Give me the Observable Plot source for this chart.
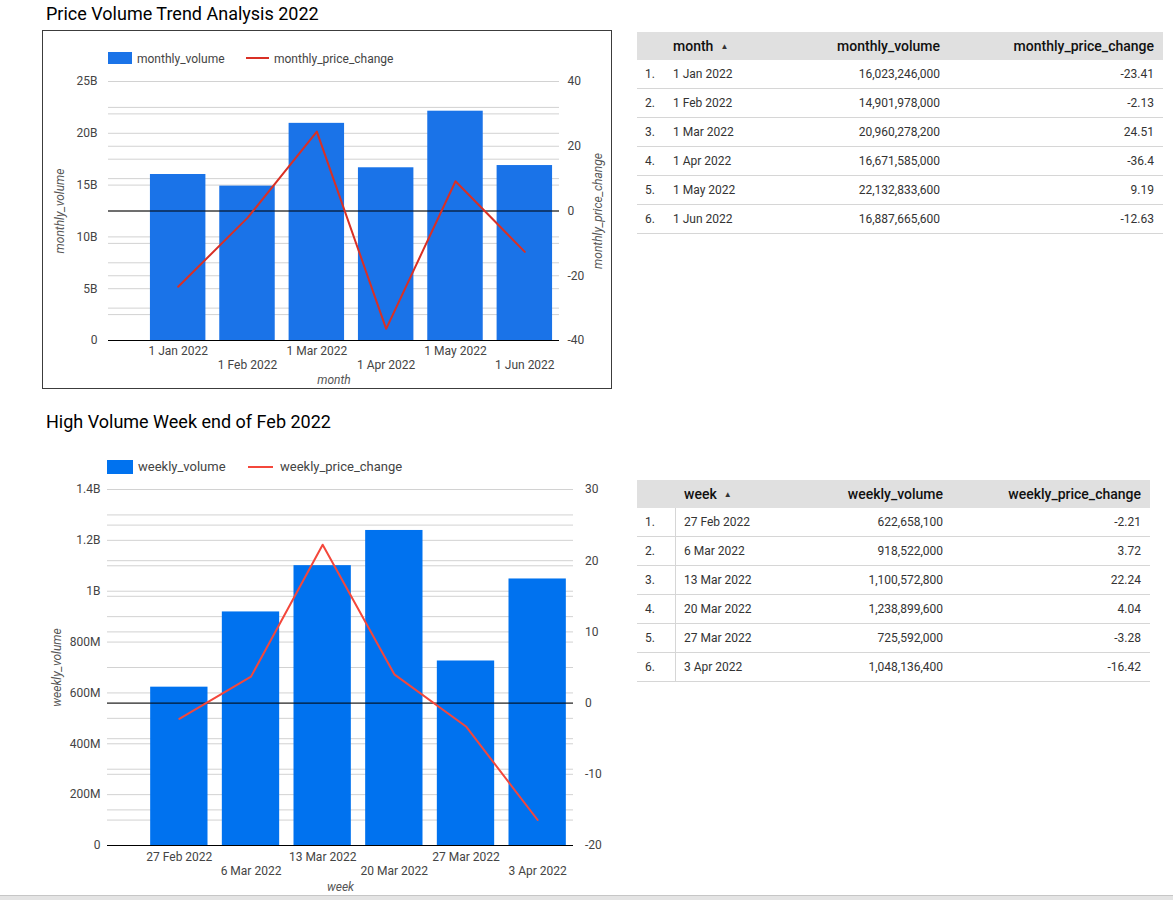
<!DOCTYPE html>
<html><head><meta charset="utf-8">
<script src="https://cdn.jsdelivr.net/npm/d3@7"></script>
<script src="https://cdn.jsdelivr.net/npm/@observablehq/plot@0.6"></script>
<style>
html,body{margin:0;padding:0;}
body{width:1173px;height:900px;position:relative;overflow:hidden;background:#fff;font-family:Roboto,sans-serif;}
.abs{position:absolute;}
.title{font-size:18px;line-height:18px;color:#000;white-space:nowrap;}
.ltxt{color:#444;white-space:nowrap;}
.tbl{position:absolute;font-family:Roboto,sans-serif;}
.row{display:flex;box-sizing:border-box;height:29px;border-bottom:1px solid #d6d6d6;font-size:12px;color:#333;}
.hrow{display:flex;height:28px;background:#e0e0e0;font-size:14px;font-weight:500;color:#111;}
.cell{box-sizing:border-box;display:flex;align-items:center;white-space:nowrap;overflow:hidden;}
.l{justify-content:flex-start;padding-left:8px;}
.r{justify-content:flex-end;}
.arrow{font-size:8px;margin-left:7px;color:#333;}
#box1{position:absolute;left:42px;top:30px;width:570px;height:359px;box-sizing:border-box;border:1px solid #3c3c3c;}
#strip{position:absolute;left:0;top:895px;width:1173px;height:5px;background:#e4e4e4;border-top:1px solid #c6c6c6;box-sizing:border-box;}
</style></head><body>
<div class="abs title" style="left:46px;top:5px;">Price Volume Trend Analysis 2022</div>
<div id="box1"></div>
<div class="abs title" style="left:46px;top:413px;">High Volume Week end of Feb 2022</div>
<div id="chart2" class="abs" style="left:42px;top:440px;"></div>
<div id="legend1"></div>
<div id="legend2"></div>
<div id="table1" class="tbl" style="left:637px;top:32px;"></div>
<div id="table2" class="tbl" style="left:637px;top:480px;"></div>
<div id="strip"></div>
<script>
// ---------- data ----------
const months = ["1 Jan 2022", "1 Feb 2022", "1 Mar 2022", "1 Apr 2022", "1 May 2022", "1 Jun 2022"];
const monthlyVolume = [16023246000, 14901978000, 20960278200, 16671585000, 22132833600, 16887665600];
const monthlyPriceChange = [-23.41, -2.13, 24.51, -36.4, 9.19, -12.63];

const weeks = ["27 Feb 2022", "6 Mar 2022", "13 Mar 2022", "20 Mar 2022", "27 Mar 2022", "3 Apr 2022"];
const weeklyVolume = [622658100, 918522000, 1100572800, 1238899600, 725592000, 1048136400];
const weeklyPriceChange = [-2.21, 3.72, 22.24, 4.04, -3.28, -16.42];

// ---------- ticks ----------
const monthlyVolumeTicks = [0, 5e9, 10e9, 15e9, 20e9, 25e9];
const monthlyVolumeTickLabels = ["0", "5B", "10B", "15B", "20B", "25B"];
const monthlyVolumeGrid = [0, 2.5e9, 5e9, 7.5e9, 10e9, 12.5e9, 15e9, 17.5e9, 20e9, 22.5e9, 25e9];
const monthlyPriceTicks = [-40, -20, 0, 20, 40];
const monthlyPriceGrid = [-40, -30, -20, -10, 0, 10, 20, 30, 40];

const weeklyVolumeTicks = [0, 2e8, 4e8, 6e8, 8e8, 1e9, 1.2e9, 1.4e9];
const weeklyVolumeTickLabels = ["0", "200M", "400M", "600M", "800M", "1B", "1.2B", "1.4B"];
const weeklyVolumeGrid = [0, 1e8, 2e8, 3e8, 4e8, 5e8, 6e8, 7e8, 8e8, 9e8, 1e9, 1.1e9, 1.2e9, 1.3e9, 1.4e9];
const weeklyPriceTicks = [-20, -10, 0, 10, 20, 30];
const weeklyPriceGrid = [-20, -15, -10, -5, 0, 5, 10, 15, 20, 25, 30];

function dualChart(o) {
  const [p0, p1] = o.priceDomain, [v0, v1] = o.volDomain;
  const toY = p => v0 + (p - p0) / (p1 - p0) * (v1 - v0);
  const rows = o.cats.map((c, i) => ({cat: c, vol: o.vol[i], price: o.price[i]}));
  const volLabel = new Map(o.volTicks.map((t, i) => [t, o.volLabels[i]]));
  const priceLabel = new Map(o.priceTicks.map(t => [toY(t), String(t)]));
  const marks = [
    Plot.ruleY(o.volGrid, {stroke: "#d2d2d2"}),
    Plot.ruleY(o.priceGrid.map(toY), {stroke: "#d2d2d2"}),
    Plot.barY(rows, {x: "cat", y: "vol", fill: o.barColor}),
    Plot.ruleY([toY(0)], {stroke: "#000"}),
    Plot.ruleY([0], {stroke: "#000"}),
    Plot.line(rows, {x: "cat", y: d => toY(d.price), stroke: o.lineColor, strokeWidth: 2}),
    Plot.axisY(o.volTicks, {anchor: "left", tickSize: 0, tickPadding: o.leftPad, tickFormat: t => volLabel.get(t), label: null}),
    Plot.axisY(o.priceTicks.map(toY), {anchor: "right", tickSize: 0, tickPadding: o.rightPad, textAnchor: "start", tickFormat: v => priceLabel.get(v), label: null}),
    Plot.axisX(o.cats.filter((_, i) => i % 2 === 0), {tickSize: 0, tickPadding: o.xPad1, label: null}),
    Plot.axisX(o.cats.filter((_, i) => i % 2 === 1), {tickSize: 0, tickPadding: o.xPad2, label: null}),
    Plot.text([o.xTitle], {frameAnchor: "bottom", lineAnchor: "middle", textAnchor: "middle", dy: o.xTitleDy, fontStyle: "italic", fill: "#555"}),
    Plot.text([o.yTitle], {frameAnchor: "left", textAnchor: "middle", lineAnchor: "middle", rotate: -90, dx: o.yTitleDx, fontStyle: "italic", fill: "#555"})
  ];
  if (o.y2Title) marks.push(Plot.text([o.y2Title], {frameAnchor: "right", textAnchor: "middle", lineAnchor: "middle", rotate: -90, dx: o.y2TitleDx, fontStyle: "italic", fill: "#555"}));
  return Plot.plot({
    width: o.width, height: o.height,
    marginLeft: o.ml, marginRight: o.mr, marginTop: o.mt, marginBottom: o.mb,
    x: {type: "band", domain: o.cats, range: o.xRange, paddingInner: 0.2, paddingOuter: 0.1, round: false, label: null},
    y: {domain: o.volDomain, label: null},
    style: {fontFamily: "Roboto, sans-serif", fontSize: "12px", color: "#444", background: "transparent", overflow: "visible"},
    marks
  });
}

const c1 = dualChart({
  cats: months, vol: monthlyVolume, price: monthlyPriceChange,
  volDomain: [0, 25e9], priceDomain: [-40, 40],
  volTicks: monthlyVolumeTicks, volLabels: monthlyVolumeTickLabels, volGrid: monthlyVolumeGrid,
  priceTicks: monthlyPriceTicks, priceGrid: monthlyPriceGrid,
  barColor: "#1a73e8", lineColor: "#d93025",
  width: 568, height: 357, ml: 65, mr: 52, mt: 50, mb: 48, xRange: [100, 516],
  leftPad: 11, rightPad: 8, xPad1: 6, xPad2: 20,
  xTitle: "month", xTitleDy: 40, yTitle: "monthly_volume", yTitleDx: -48,
  y2Title: "monthly_price_change", y2TitleDx: 39
});
c1.style.position = "absolute"; c1.style.left = "0px"; c1.style.top = "0px";
document.getElementById("box1").appendChild(c1);

const c2 = dualChart({
  cats: weeks, vol: weeklyVolume, price: weeklyPriceChange,
  volDomain: [0, 1.4e9], priceDomain: [-20, 30],
  volTicks: weeklyVolumeTicks, volLabels: weeklyVolumeTickLabels, volGrid: weeklyVolumeGrid,
  priceTicks: weeklyPriceTicks, priceGrid: weeklyPriceGrid,
  barColor: "#0072ef", lineColor: "#f4473b",
  width: 570, height: 455, ml: 65, mr: 39, mt: 49, mb: 50, xRange: [101, 531],
  leftPad: 7, rightPad: 11.5, xPad1: 7, xPad2: 21,
  xTitle: "week", xTitleDy: 42, yTitle: "weekly_volume", yTitleDx: -50
});
document.getElementById("chart2").appendChild(c2);

// ---------- legends ----------
function legend(el, items) {
  el.innerHTML = items.map(it => it.kind === "text"
    ? `<div class="abs ltxt" style="left:${it.x}px;top:${it.y}px;font-size:${it.fs}px;line-height:${it.lh}px;">${it.label}</div>`
    : `<div class="abs" style="left:${it.x}px;top:${it.y}px;width:${it.w}px;height:${it.h}px;background:${it.color};"></div>`).join("");
}
legend(document.getElementById("legend1"), [
  {kind: "rect", x: 108, y: 52, w: 24, h: 12, color: "#1a73e8"},
  {kind: "text", x: 137, y: 52, fs: 12, lh: 14, label: "monthly_volume"},
  {kind: "rect", x: 246, y: 57, w: 23, h: 2, color: "#d93025"},
  {kind: "text", x: 274, y: 52, fs: 12, lh: 14, label: "monthly_price_change"}
]);
legend(document.getElementById("legend2"), [
  {kind: "rect", x: 107, y: 460, w: 26, h: 14, color: "#0072ef"},
  {kind: "text", x: 138, y: 459, fs: 13, lh: 16, label: "weekly_volume"},
  {kind: "rect", x: 248, y: 466, w: 25, h: 2, color: "#f4473b"},
  {kind: "text", x: 280, y: 459, fs: 13, lh: 16, label: "weekly_price_change"}
]);

// ---------- tables ----------
const fmtInt = d3.format(",");
function table(el, o) {
  const w = o.widths;
  let html = `<div class="hrow" style="width:${d3.sum(w)}px">`
    + `<div class="cell" style="width:${w[0]}px"></div>`
    + `<div class="cell l" style="width:${w[1]}px">${o.headers[0]}<span class="arrow">▲</span></div>`
    + `<div class="cell r" style="width:${w[2]}px;padding-right:${o.pads[0]}px">${o.headers[1]}</div>`
    + `<div class="cell r" style="width:${w[3]}px;padding-right:${o.pads[1]}px">${o.headers[2]}</div></div>`;
  o.cats.forEach((c, i) => {
    html += `<div class="row" style="width:${d3.sum(w)}px">`
      + `<div class="cell l" style="width:${w[0]}px;${o.sep ? "border-right:1px solid #d6d6d6;" : ""}">${i + 1}.</div>`
      + `<div class="cell l" style="width:${w[1]}px">${c}</div>`
      + `<div class="cell r" style="width:${w[2]}px;padding-right:${o.pads[0]}px">${fmtInt(o.vol[i])}</div>`
      + `<div class="cell r" style="width:${w[3]}px;padding-right:${o.pads[1]}px">${o.price[i]}</div></div>`;
  });
  el.innerHTML = html;
}
table(document.getElementById("table1"), {
  cats: months, vol: monthlyVolume, price: monthlyPriceChange,
  headers: ["month", "monthly_volume", "monthly_price_change"],
  widths: [28, 147, 136, 215], pads: [8, 9], sep: false
});
table(document.getElementById("table2"), {
  cats: weeks, vol: weeklyVolume, price: weeklyPriceChange,
  headers: ["week", "weekly_volume", "weekly_price_change"],
  widths: [39, 144, 131, 199], pads: [8, 9], sep: true
});
</script>
</body></html>
